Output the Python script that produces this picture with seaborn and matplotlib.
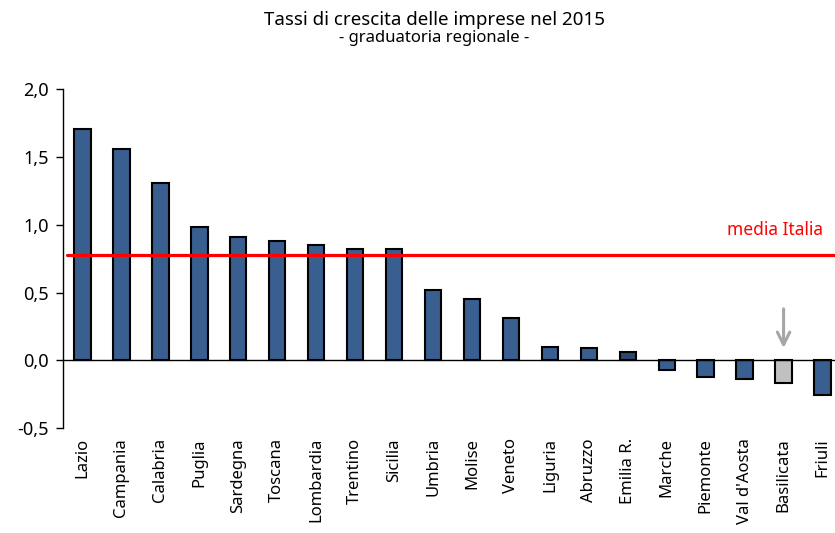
import matplotlib
matplotlib.use("Agg")
import matplotlib.pyplot as plt
import seaborn as sns
import pandas as pd
from matplotlib.ticker import FixedLocator, FuncFormatter

# Tassi di crescita delle imprese 2015, per regione (%)
regioni = ["Lazio", "Campania", "Calabria", "Puglia", "Sardegna", "Toscana",
           "Lombardia", "Trentino", "Sicilia", "Umbria", "Molise", "Veneto",
           "Liguria", "Abruzzo", "Emilia R.", "Marche", "Piemonte",
           "Val d'Aosta", "Basilicata", "Friuli"]
tassi = [1.71, 1.56, 1.31, 0.98, 0.91, 0.88, 0.85, 0.82, 0.82, 0.52, 0.45,
         0.31, 0.10, 0.09, 0.06, -0.07, -0.12, -0.14, -0.17, -0.26]
media_italia = 0.78
evidenziata = "Basilicata"

df = pd.DataFrame({"regione": regioni, "tasso": tassi})

blu = "#385f90"
colori = {r: ("#c0c0c0" if r == evidenziata else blu) for r in regioni}
colori["Emilia R."] = "#2c476c"

sns.set_style("white")
plt.rcParams["font.family"] = ["Noto Sans", "DejaVu Sans"]
plt.rcParams["text.color"] = "black"
plt.rcParams["xtick.color"] = "black"
plt.rcParams["ytick.color"] = "black"
plt.rcParams["axes.labelcolor"] = "black"

W, H = 835, 533
fig = plt.figure(figsize=(W / 100, H / 100), dpi=100)
ax = fig.add_axes([63 / W, 1 - 428 / H, (842 - 63) / W, (428 - 89.3) / H])

sns.barplot(data=df, x="regione", y="tasso", hue="regione", palette=colori,
            width=0.42, edgecolor="black", linewidth=1.5, legend=False,
            saturation=1, ax=ax)

ax.set_xlim(-0.5, len(regioni) - 0.5)
ax.set_ylim(-0.5, 2.0)
ax.set_xlabel("")
ax.set_ylabel("")

# asse orizzontale sullo zero, tacche tra le categorie
for s in ["top", "right"]:
    ax.spines[s].set_visible(False)
ax.spines["bottom"].set_position(("data", 0))
ax.spines["bottom"].set_color("black")
ax.spines["bottom"].set_linewidth(1.0)
ax.spines["left"].set_color("black")
ax.spines["left"].set_linewidth(1.0)
ax.set_axisbelow(False)

ax.xaxis.set_minor_locator(FixedLocator([i + 0.5 for i in range(len(regioni))]))
ax.tick_params(axis="x", which="major", length=0, pad=56, labelsize=12,
               labelrotation=90, labelcolor="black")
ax.tick_params(axis="x", which="minor", length=5, width=1, color="#808080",
               direction="out")
for lab in ax.get_xticklabels():
    lab.set_verticalalignment("top")
    lab.set_horizontalalignment("center")

ax.set_yticks([-0.5, 0.0, 0.5, 1.0, 1.5, 2.0])
ax.yaxis.set_major_formatter(FuncFormatter(lambda v, _: f"{v:.1f}".replace(".", ",")))
ax.tick_params(axis="y", which="major", length=5, width=1, color="black",
               direction="out", labelsize=13, left=True, pad=5,
               labelcolor="black")

# linea della media nazionale
ax.plot([-0.4, len(regioni) - 0.5], [media_italia, media_italia],
        color="#ff0000", lw=2.3, zorder=5, clip_on=False)
ax.text(823 / W, 1 - 230 / H, "media Italia", transform=fig.transFigure,
        color="#ff0000", fontsize=12.5, ha="right", va="center")

# freccia sulla regione evidenziata
i_ev = regioni.index(evidenziata)
ax.annotate("", xy=(i_ev, 0.07), xytext=(i_ev, 0.40),
            arrowprops=dict(arrowstyle="->,head_length=0.9,head_width=0.45",
                            color="#a6a6a6", lw=2.2))

fig.text(434 / W, 1 - 20 / H, "Tassi di crescita delle imprese nel 2015",
         ha="center", va="center", fontsize=13.5, color="black")
fig.text(434 / W, 1 - 38 / H, "- graduatoria regionale -",
         ha="center", va="center", fontsize=12, color="black")

fig.savefig("out.png", dpi=100)
